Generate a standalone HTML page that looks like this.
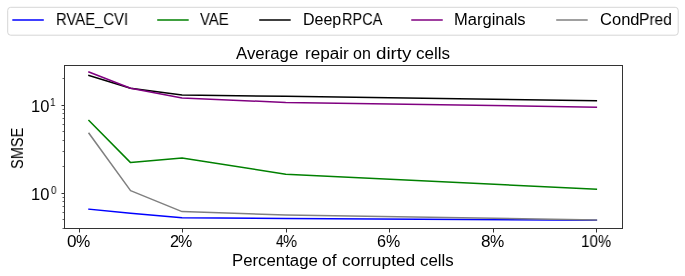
<!DOCTYPE html>
<html lang="en"><head><meta charset="utf-8"><title>Average repair on dirty cells</title>
<style>
html,body{margin:0;padding:0;background:#fff;}
body{width:685px;height:276px;position:relative;overflow:hidden;font-family:"Liberation Sans",sans-serif;color:#000;}
svg{position:absolute;left:0;top:0;display:block}
.t{position:absolute;white-space:nowrap;line-height:1;transform-origin:0 0;font-family:"Liberation Sans",sans-serif;font-size:16px;will-change:transform;}
</style></head><body>
<svg width="685" height="276" viewBox="0 0 685 276">
<rect x="7.7" y="7.3" width="670.5" height="27.9" rx="3" ry="3" fill="#fff" stroke="#d6d6d6" stroke-width="1"/>
<path d="M13.05 20h30" stroke="#0000ff" stroke-width="1.5" stroke-linecap="square" fill="none"/>
<path d="M157.95 20h30" stroke="#008000" stroke-width="1.5" stroke-linecap="square" fill="none"/>
<path d="M259.95 20h30" stroke="#000000" stroke-width="1.5" stroke-linecap="square" fill="none"/>
<path d="M412.00 20h30" stroke="#800080" stroke-width="1.5" stroke-linecap="square" fill="none"/>
<path d="M556.95 20h30" stroke="#808080" stroke-width="1.5" stroke-linecap="square" fill="none"/>
<polyline points="88.95,209.20 130.55,213.30 182.05,217.80 285.75,218.40 596.35,220.30" fill="none" stroke="#0000ff" stroke-width="1.5" stroke-linecap="square" stroke-linejoin="round"/>
<polyline points="88.95,120.50 130.55,162.60 182.05,157.90 285.75,174.20 596.35,189.30" fill="none" stroke="#008000" stroke-width="1.5" stroke-linecap="square" stroke-linejoin="round"/>
<polyline points="88.95,75.50 130.55,88.30 182.05,95.10 285.75,96.30 596.35,100.65" fill="none" stroke="#000000" stroke-width="1.5" stroke-linecap="square" stroke-linejoin="round"/>
<polyline points="88.95,72.00 130.55,88.30 182.05,98.10 285.75,102.40 596.35,107.20" fill="none" stroke="#800080" stroke-width="1.5" stroke-linecap="square" stroke-linejoin="round"/>
<polyline points="88.95,133.30 130.55,190.65 182.05,211.60 285.75,215.00 596.35,219.95" fill="none" stroke="#808080" stroke-width="1.5" stroke-linecap="square" stroke-linejoin="round"/>
<g shape-rendering="crispEdges">
<rect x="64.5" y="65.5" width="558" height="163" fill="none" stroke="#333" stroke-width="1"/>
<path d="M79 229h1v3h-1zM182 229h1v3h-1zM286 229h1v3h-1zM389 229h1v3h-1zM493 229h1v3h-1zM596 229h1v3h-1z" fill="#333"/><path d="M79 232h1v1h-1zM182 232h1v1h-1zM286 232h1v1h-1zM389 232h1v1h-1zM493 232h1v1h-1zM596 232h1v1h-1z" fill="#999"/>
<path d="M62 105h2v1h-2zM62 193h2v1h-2z" fill="#333"/><path d="M61 105h1v1h-1zM61 193h1v1h-1z" fill="#999"/>
<path d="M63 78h1v1h-1zM63 109h1v1h-1zM63 113h1v1h-1zM63 118h1v1h-1zM63 124h1v1h-1zM63 131h1v1h-1zM63 140h1v1h-1zM63 151h1v1h-1zM63 166h1v1h-1zM63 197h1v1h-1zM63 201h1v1h-1zM63 206h1v1h-1zM63 212h1v1h-1zM63 219h1v1h-1zM63 228h1v1h-1z" fill="#656565"/><path d="M62 78h1v1h-1zM62 109h1v1h-1zM62 113h1v1h-1zM62 118h1v1h-1zM62 124h1v1h-1zM62 131h1v1h-1zM62 140h1v1h-1zM62 151h1v1h-1zM62 166h1v1h-1zM62 197h1v1h-1zM62 201h1v1h-1zM62 206h1v1h-1zM62 212h1v1h-1zM62 219h1v1h-1zM62 228h1v1h-1z" fill="#b2b2b2"/>
</g>
</svg>

<span class="t" style="left:56.17px;top:12px;transform:scale(0.928,1);">RVAE_CVI</span>
<span class="t" style="left:200.2px;top:12px;transform:scale(0.9267,1);">VAE</span>
<span class="t" style="left:303px;top:12px;">Deep</span><span class="t" style="left:342.09px;top:12px;transform:scale(0.907,1);">RPCA</span>
<span class="t" style="left:453.97px;top:12px;transform:scale(1.0324,1);">Marginals</span>
<span class="t" style="left:599.97px;top:12px;transform:scale(1.0333,1);">Cond</span><span class="t" style="left:639.23px;top:12px;transform:scale(0.9688,1);">Pred</span>
<span class="t" style="left:236px;top:46px;transform:scale(1.0492,1);">Average</span>
<span class="t" style="left:304.73px;top:46px;transform:scale(1.07,1);">repair</span>
<span class="t" style="left:353.2px;top:46px;">on</span>
<span class="t" style="left:376.03px;top:46px;transform:scale(1.1724,1);">dirty</span>
<span class="t" style="left:416.13px;top:46px;transform:scale(1.0667,1);">cells</span>
<span class="t" style="left:231.95px;top:253px;transform:scale(1.0487,1);">Percentage</span>
<span class="t" style="left:321.82px;top:253px;transform:scale(1.0869,1);">of</span>
<span class="t" style="left:341.62px;top:253px;transform:scale(1.0833,1);">corrupted</span>
<span class="t" style="left:420.13px;top:253px;transform:scale(1.0533,1);">cells</span>
<span class="t" style="left:10px;top:168.91px;transform:rotate(-90deg) scale(0.9091,1);">SMSE</span>
<span class="t" style="left:31.37px;top:99px;transform:scale(1.0312,1);">10</span><sup class="t" style="left:50.12px;top:97px;transform:scale(0.88,1);font-size:11.2px;">1</sup>
<span class="t" style="left:31.37px;top:187px;transform:scale(1.0312,1);">10</span><sup class="t" style="left:50.6px;top:185px;transform:scale(0.8833,1);font-size:11.2px;">0</sup>
<span class="t" style="left:67.18px;top:234px;transform:scale(1.0714,1);">0</span><span class="t" style="left:76px;top:234px;">%</span>
<span class="t" style="left:169.88px;top:234px;transform:scale(1.0114,1);">2</span><span class="t" style="left:178.2px;top:234px;">%</span>
<span class="t" style="left:275.8px;top:234px;transform:scale(0.87,1);">4</span><span class="t" style="left:283.32px;top:234px;transform:scale(0.9869,1);">%</span>
<span class="t" style="left:376.78px;top:234px;transform:scale(1.0114,1);">6</span><span class="t" style="left:386px;top:234px;">%</span>
<span class="t" style="left:481.18px;top:234px;transform:scale(1.0714,1);">8</span><span class="t" style="left:490px;top:234px;">%</span>
<span class="t" style="left:580.83px;top:234px;transform:scale(0.9488,1);">10</span><span class="t" style="left:598.08px;top:234px;transform:scale(0.9231,1);">%</span>
</body></html>
